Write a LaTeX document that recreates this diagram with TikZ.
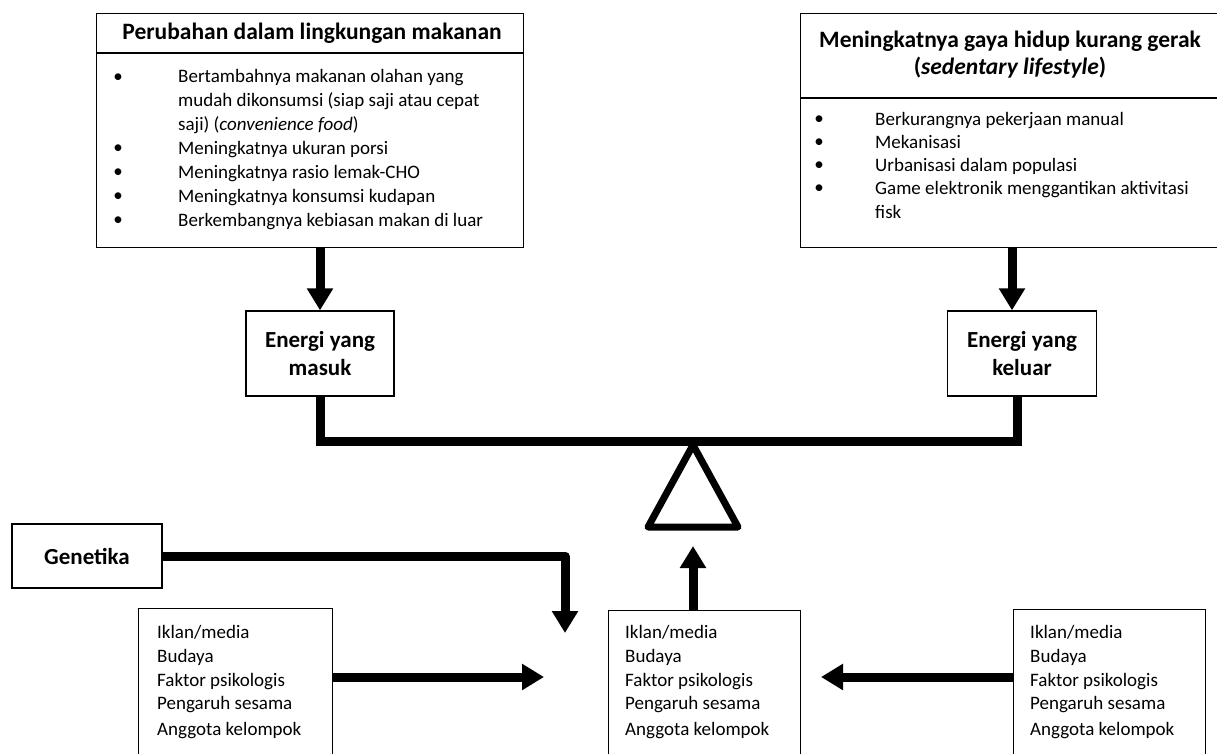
\documentclass[tikz,border=0pt]{standalone}
\usepackage{fontspec}
\setmainfont{Carlito}
\usetikzlibrary{arrows.meta}

\tikzset{
  box/.style={draw, line width=1.3pt, inner sep=0pt, anchor=north west},
  ebox/.style={draw, line width=1.3pt, inner sep=0pt, align=center,
    font=\fontsize{23}{28}\selectfont\bfseries},
  bigarrow/.style={line width=9pt, -{Triangle[length=22pt,width=25pt]}},
  beam/.style={line width=9pt},
  headtxt/.style={font=\fontsize{23.5}{27}\selectfont\bfseries, align=center},
  itemtxt/.style={font=\fontsize{19}{24}\selectfont, anchor=mid west, inner sep=0pt},
  dot/.style={font=\fontsize{19}{24}\selectfont, inner sep=0pt}
}

\begin{document}
\begin{tikzpicture}[x=1pt, y=-1pt]
        \useasboundingbox (0,0) rectangle (1217,754);
        \clip (0,0) rectangle (1217,754);

        % Food environment (top left)
        \node[box, minimum width=427pt, minimum height=234pt] (food) at (96,13) {};
        \node[headtxt] (foodTitle) at (312,33) {Perubahan dalam lingkungan makanan};
        \draw[line width=1.3pt] (food.west |- 0,53) -- (food.east |- 0,53);
        \foreach \y in {78,149,173,197,221}
            \node[dot] (fb\y) at (118,\y) {\textbullet};
        \foreach \y/\t in {80/{Bertambahnya makanan olahan yang},
                           104/{mudah dikonsumsi (siap saji atau cepat},
                           128/{saji) (\textit{convenience food})},
                           152/{Meningkatnya ukuran porsi},
                           176/{Meningkatnya rasio lemak-CHO},
                           200/{Meningkatnya konsumsi kudapan},
                           224/{Berkembangnya kebiasan makan di luar}}
            \node[itemtxt] (ft\y) at (178,\y) {\t};

        % Sedentary lifestyle (top right)
        \node[box, minimum width=417pt, minimum height=234pt] (sit) at (800,13) {};
        \node[headtxt] (sitTitle) at (1010,54.5) {Meningkatnya gaya hidup kurang gerak\\(\textit{sedentary lifestyle})};
        \draw[line width=1.3pt] (sit.west |- 0,98) -- (sit.east |- 0,98);
        \foreach \y in {120,143,166,189}
            \node[dot] (sb\y) at (819,\y) {\textbullet};
        \foreach \y/\t in {123/{Berkurangnya pekerjaan manual},
                           146/{Mekanisasi},
                           169/{Urbanisasi dalam populasi},
                           192/{Game elektronik menggantikan aktivitasi},
                           216/{fisk}}
            \node[itemtxt] (st\y) at (875,\y) {\t};

        % Energy in / out
        \node[ebox, minimum width=148pt, minimum height=85pt] (inBox) at (320,353.5) {Energi yang\\masuk};
        \node[ebox, minimum width=149pt, minimum height=85pt] (outBox) at (1022,353.5) {Energi yang\\keluar};
        \coordinate (outIn) at ([xshift=-10pt]outBox.north);
        \coordinate (outLow) at ([xshift=-5pt]outBox.south);
        \draw[bigarrow] (food.south -| inBox.north) -- (inBox.north);
        \draw[bigarrow] (sit.south -| outIn) -- (outIn);

        % Balance beam and fulcrum
        \draw[beam] (inBox.south) -- (inBox.south |- 0,441) -- (outLow |- 0,441) -- (outLow);
        \draw[line width=7pt, line join=round] (693,445) -- (738,527) -- (648,527) -- cycle;

        % Genetics
        \node[ebox, minimum width=150pt, minimum height=64pt] (gen) at (87,556) {Genetika};
        \coordinate (genTip) at (565,633);
        \draw[bigarrow, line join=round] (gen.east) -| (genTip);

        % Lower factor boxes
        \node[box, minimum width=194pt, minimum height=160pt] (lfBox) at (138,608) {};
        \node[box, minimum width=192pt, minimum height=160pt] (mdBox) at (608,610) {};
        \node[box, minimum width=192pt, minimum height=160pt] (rtBox) at (1013,609) {};
        \foreach \bx/\bn in {157/lf, 625/md, 1030/rt}
            \foreach \y/\t in {636/{Iklan/media}, 660/{Budaya}, 684/{Faktor psikologis},
                               707/{Pengaruh sesama}, 733/{Anggota kelompok}}
                \node[itemtxt] (\bn\y) at (\bx,\y) {\t};

        \coordinate (upTip) at (693,546);
        \coordinate (leftTip) at (544,677);
        \coordinate (rightTip) at (821,677);
        \draw[bigarrow] (mdBox.north -| upTip) -- (upTip);
        \draw[bigarrow] (lfBox.east |- leftTip) -- (leftTip);
        \draw[bigarrow] (rtBox.west |- rightTip) -- (rightTip);

    \end{tikzpicture}
\end{document}
